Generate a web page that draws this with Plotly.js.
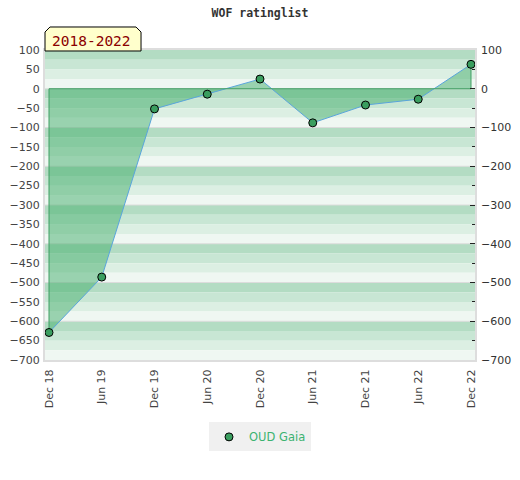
<!DOCTYPE html>
<html>
<head>
<meta charset="utf-8">
<script src="https://cdn.plot.ly/plotly-3.0.1.min.js"></script>
<style>html,body{margin:0;padding:0;background:#fff;}#chart{width:520px;height:480px;}</style>
</head>
<body>
<div id="chart"></div>
<script>
var periods = ['Dec 18','Jun 19','Dec 19','Jun 20','Dec 20','Jun 21','Dec 21','Jun 22','Dec 22'];
var ratings = [-629, -486, -52, -14, 25, -88, -42, -27, 63];
var seriesName = 'OUD Gaia';
var chartTitle = 'WOF ratinglist';
var rangeLabel = '2018-2022';
var yMin = -700, yMax = 100;

// background stripes (decoration)
var stripeColors = ['#b3dcc3', '#c8e6d4', '#dcefe3', '#eff7f2'];
var shapes = [];
for (var stripeTop = yMax; stripeTop > yMin; stripeTop -= 25) {
  var k = (((yMax - stripeTop) / 25) % 4 + 4) % 4;
  shapes.push({type:'rect', xref:'paper', yref:'y', x0:0, x1:1, y0:stripeTop-25, y1:stripeTop,
    fillcolor: stripeColors[k], line:{width:0}, layer:'below'});
}
for (var g = yMax - 100; g > yMin; g -= 100) {
  shapes.push({type:'line', xref:'paper', yref:'y', x0:0, x1:1, y0:g, y1:g,
    line:{color:'#dcdcdc', width:1}, layer:'below'});
}
// label box with cut corners
shapes.push({type:'path', xref:'paper', yref:'paper',
  path:'M 0,0.9968 L 0,1.058 L 0.0116,1.0742 L 0.2117,1.0742 L 0.2233,1.058 L 0.2233,0.9968 Z',
  fillcolor:'#ffffcc', line:{color:'#000', width:1}, layer:'above'});

var n = periods.length;
var fillTrace = {
  x: periods, y: ratings, type:'scatter', mode:'lines', fill:'tozeroy',
  fillcolor:'rgba(67,174,107,0.5)', line:{color:'#5aa5dc', width:1},
  showlegend:false, hoverinfo:'skip'
};
var outlineTrace = {
  x: [periods[0], periods[0], periods[n-1], periods[n-1]],
  y: [ratings[0], 0, 0, ratings[n-1]],
  type:'scatter', mode:'lines', line:{color:'#3f9e62', width:1},
  showlegend:false, hoverinfo:'skip'
};
var markerTrace = {
  x: periods, y: ratings, type:'scatter', mode:'markers', name: seriesName,
  marker:{color:'#3a9e5f', size:8, line:{color:'#000', width:1}}
};
var axisTrace = {
  x: [periods[0]], y: [null], yaxis:'y2', type:'scatter', mode:'markers', showlegend:false, hoverinfo:'skip'
};

var tickFont = {family:'DejaVu Sans', size:11, color:'#444'};
var layout = {
  width:520, height:480,
  margin:{l:45, r:45, t:50, b:120},
  paper_bgcolor:'#fff', plot_bgcolor:'rgba(0,0,0,0)',
  title:{text: chartTitle, x:0.5, xanchor:'center', y:0.973, yanchor:'middle',
    font:{family:'DejaVu Sans Mono', size:11.5, color:'#333', weight:'bold'}},
  xaxis:{type:'category', range:[-0.076, n-1+0.076], tickangle:-90, tickfont:tickFont,
    showgrid:false, zeroline:false, showline:true, mirror:true, linecolor:'#dddddd', linewidth:2,
    ticks:'', ticklabelstandoff:3, fixedrange:true},
  yaxis:{range:[yMin, yMax], dtick:50, tickfont:tickFont, showgrid:false, zeroline:false,
    showline:true, mirror:true, linecolor:'#dddddd', linewidth:2, ticks:'', ticklabelstandoff:1, fixedrange:true},
  yaxis2:{overlaying:'y', side:'right', range:[yMin, yMax], dtick:100, showgrid:false, zeroline:false,
    ticks:'inside', ticklen:5, tickcolor:'#222', tickwidth:1, ticklabelstandoff:5,
    minor:{dtick:50, ticks:'inside', ticklen:3, tickcolor:'#222', showgrid:false},
    tickfont:{family:'DejaVu Sans', size:11, color:'#333'}, fixedrange:true},
  shapes: shapes,
  annotations:[{text: rangeLabel, xref:'paper', yref:'paper', x:0.1093, y:1.0306,
    xanchor:'center', yanchor:'middle', showarrow:false,
    font:{family:'DejaVu Sans Mono', size:14.5, color:'#8b0000'}}],
  legend:{orientation:'h', x:0.5, xanchor:'center', y:-0.248, yanchor:'middle',
    bgcolor:'#f0f0f0', font:{family:'DejaVu Sans', size:11.5, color:'#3cb371'}}
};
Plotly.newPlot('chart', [fillTrace, outlineTrace, markerTrace, axisTrace], layout, {displayModeBar:false, staticPlot:true});
</script>
</body>
</html>
